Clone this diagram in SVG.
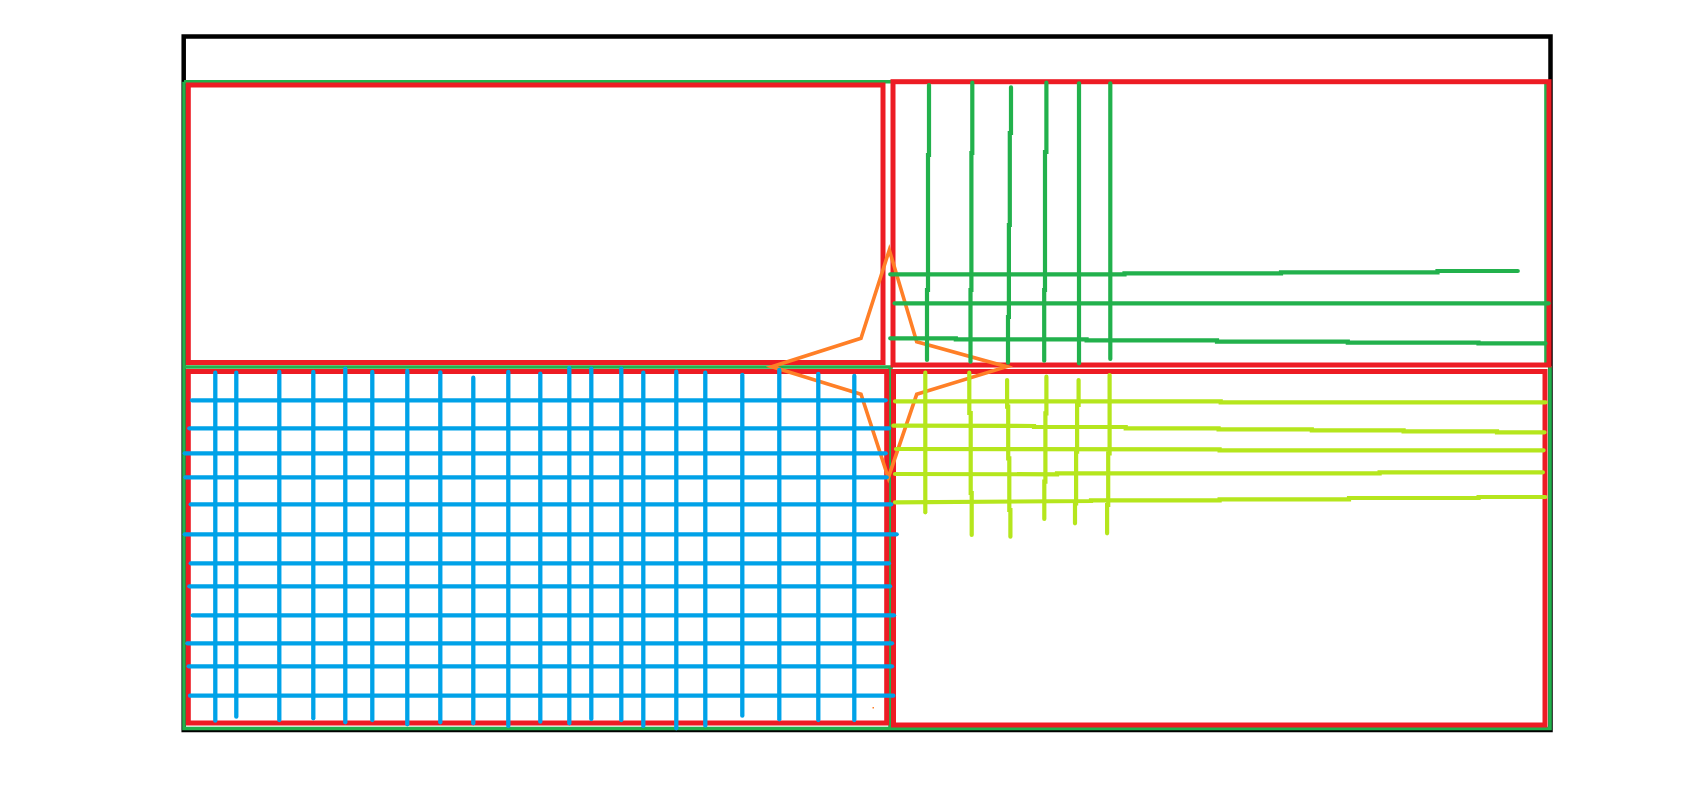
<svg xmlns="http://www.w3.org/2000/svg" width="1703" height="812" viewBox="0 0 1703 812">
<style>
.blk{fill:none;stroke:#000;stroke-width:4.5}
.gf{fill:none;stroke:#22B14C;stroke-width:3.6}
.red{fill:none;stroke:#ED1C24;stroke-width:5}
.or{fill:none;stroke:#FF7F27;stroke-width:3.6;stroke-linejoin:miter}
.bl line{stroke:#00A2E8;stroke-width:4.3;stroke-linecap:round}
.gl{fill:none;stroke:#22B14C;stroke-width:4.2;stroke-linecap:round}
.lm{fill:none;stroke:#B5E61D;stroke-width:4.2;stroke-linecap:round}
</style>
<rect width="1703" height="812" fill="#fff"/>
<g id="outer-frame"><rect class="blk" x="183.7" y="36.5" width="1366.8" height="693.5"/></g>
<g id="green-frame"><path class="gf" d="M184,81.7 H1546 V366 M1550,366 V728.5 H184 V81.7 M184,367 H893 M890,367 V728"/></g>
<g id="panel-top-left"><rect class="red" x="188.3" y="85" width="694.7" height="277.5"/></g>
<g id="panel-top-right"><rect class="red" x="893" y="81.7" width="656" height="283.3"/></g>
<g id="panel-bottom-left"><rect class="red" x="188.3" y="371.5" width="698.4" height="351.5"/></g>
<g id="panel-bottom-right"><rect class="red" x="893.5" y="371.5" width="651.5" height="353.5"/></g>
<g id="connectors">
<polygon id="star" class="or" points="771.7,366.7 861,338.3 889.3,250 916.7,341.7 1006.7,366.7 916.7,394.3 888.3,477.7 861,394.3"/>
<rect x="872.5" y="707" width="1.5" height="1.5" fill="#FF7F27"/>
<g id="blue-grid" class="bl">
<line x1="215.3" y1="372.7" x2="215.3" y2="720.7"/>
<line x1="236.3" y1="372.7" x2="236.3" y2="716.7"/>
<line x1="279.3" y1="372" x2="279.3" y2="720"/>
<line x1="313.3" y1="372" x2="313.3" y2="718.3"/>
<line x1="345.3" y1="368.7" x2="345.3" y2="722.3"/>
<line x1="372.3" y1="372" x2="372.3" y2="720"/>
<line x1="407.3" y1="371" x2="407.3" y2="724.3"/>
<line x1="440.3" y1="372.3" x2="440.3" y2="722.3"/>
<line x1="473.3" y1="377.7" x2="473.3" y2="723.3"/>
<line x1="508.3" y1="372" x2="508.3" y2="726"/>
<line x1="540.3" y1="373.7" x2="540.3" y2="721.7"/>
<line x1="569.3" y1="368" x2="569.3" y2="723.3"/>
<line x1="591.3" y1="368.7" x2="591.3" y2="719"/>
<line x1="621.3" y1="368.7" x2="621.3" y2="720"/>
<line x1="643.3" y1="372.7" x2="643.3" y2="726"/>
<line x1="676.3" y1="371.7" x2="676.3" y2="728.3"/>
<line x1="705.3" y1="372.7" x2="705.3" y2="725.7"/>
<line x1="742.3" y1="375" x2="742.3" y2="715.7"/>
<line x1="779.3" y1="370" x2="779.3" y2="719.3"/>
<line x1="818.3" y1="374" x2="818.3" y2="720"/>
<line x1="854.3" y1="376" x2="854.3" y2="720"/>
<line x1="192" y1="400.3" x2="885.7" y2="400.3"/>
<line x1="189.3" y1="428.3" x2="889" y2="428.3"/>
<line x1="184.7" y1="453.3" x2="885.7" y2="453.3"/>
<line x1="185.3" y1="477.3" x2="886.7" y2="477.3"/>
<line x1="190.7" y1="504.3" x2="891.3" y2="504.3"/>
<line x1="184.7" y1="534.3" x2="896.7" y2="534.3"/>
<line x1="190.7" y1="563.3" x2="889" y2="563.3"/>
<line x1="189.3" y1="586.3" x2="890" y2="586.3"/>
<line x1="192.7" y1="615.3" x2="894" y2="615.3"/>
<line x1="187.3" y1="643.3" x2="892" y2="643.3"/>
<line x1="188.7" y1="666.3" x2="892" y2="666.3"/>
<line x1="190" y1="695.7" x2="893.3" y2="695.7"/>
</g>
<g id="green-lines">
<path class="gl" d="M929,85 L929,155 L928,155 L928,290 L927,290 L927,360"/>
<path class="gl" d="M972.3,82.7 L972.3,153 L971.4,153 L971.4,290 L970.5,290 L970.5,361.7"/>
<path class="gl" d="M1011,87.3 L1011,133 L1009.8,133 L1009.8,225 L1008.9,225 L1008.9,317 L1008,317 L1008,362.7"/>
<path class="gl" d="M1046.4,82.7 L1046.4,152 L1045,152 L1045,290 L1044.2,290 L1044.2,360.7"/>
<path class="gl" d="M1079,83.3 L1079,363.3"/>
<path class="gl" d="M1110.3,83.3 L1110.3,359"/>
<path class="gl" d="M890.2,274.3 L1124.5,274.3 L1124.5,273.3 L1281,273.3 L1281,272.3 L1437.5,272.3 L1437.5,271 L1517.8,271"/>
<path class="gl" d="M894.6,303.3 L1548.6,303.3"/>
<path class="gl" d="M890.2,338.3 L955.8,338.3 L955.8,339.3 L1086.6,339.3 L1086.6,340.3 L1217,340.3 L1217,341.7 L1347.8,341.7 L1347.8,342.7 L1478.5,342.7 L1478.5,343.3 L1545.5,343.3"/>
</g>
<g id="lime-lines">
<path class="lm" d="M925.3,372.7 L925.3,512.3"/>
<path class="lm" d="M969.3,372.7 L969.3,413 L970.7,413 L970.7,493 L971.7,493 L971.7,535"/>
<path class="lm" d="M1007.1,380 L1007.1,406.7 L1008.2,406.7 L1008.2,458.3 L1009.3,458.3 L1009.3,510 L1010.4,510 L1010.4,536.7"/>
<path class="lm" d="M1046.4,376.7 L1046.4,413.3 L1045.4,413.3 L1045.4,481.7 L1044.3,481.7 L1044.3,519"/>
<path class="lm" d="M1078.6,380 L1078.6,405 L1077.1,405 L1077.1,451.7 L1076.1,451.7 L1076.1,503.3 L1075,503.3 L1075,523.3"/>
<path class="lm" d="M1109.6,375 L1109.6,453.3 L1108.2,453.3 L1108.2,505 L1107.1,505 L1107.1,533.3"/>
<path class="lm" d="M895,401.3 L1220.7,401.3 L1220.7,402.3 L1545.7,402.3"/>
<path class="lm" d="M893.3,425.7 L1034,426 L1034,427 L1125.7,427 L1125.7,428.3 L1218.6,428.3 L1218.6,429.3 L1311.8,429.3 L1311.8,430.3 L1403.6,430.3 L1403.6,431.3 L1497,431.3 L1497,432.3 L1544.6,432.3"/>
<path class="lm" d="M896,449 L1219.6,449.3 L1219.6,450.3 L1543.6,450.3"/>
<path class="lm" d="M895,474 L1057,474.3 L1057,473.3 L1379.6,473.3 L1379.6,472.3 L1542.9,472.3"/>
<path class="lm" d="M895,502.3 L1091,501 L1091,500.3 L1219.6,500.3 L1219.6,499.3 L1349,499.3 L1349,498 L1478.6,498 L1478.6,497 L1545.4,497"/>
</g>
</g>
</svg>
